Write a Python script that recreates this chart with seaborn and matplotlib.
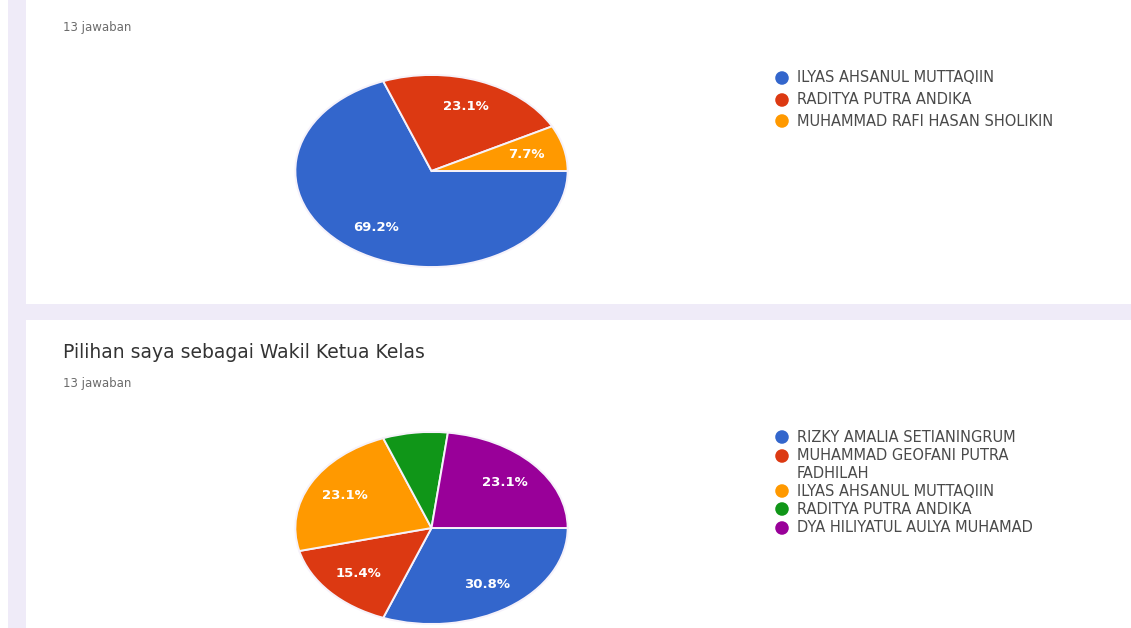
import matplotlib
matplotlib.use("Agg")
import matplotlib.pyplot as plt
from matplotlib.patches import Rectangle
import seaborn as sns

# ---- data ----
top_labels = ["ILYAS AHSANUL MUTTAQIIN", "RADITYA PUTRA ANDIKA", "MUHAMMAD RAFI HASAN SHOLIKIN"]
top_counts = [9, 3, 1]
bottom_title = "Pilihan saya sebagai Wakil Ketua Kelas"
bottom_labels = ["RIZKY AMALIA SETIANINGRUM", "MUHAMMAD GEOFANI PUTRA\nFADHILAH",
                 "ILYAS AHSANUL MUTTAQIIN", "RADITYA PUTRA ANDIKA", "DYA HILIYATUL AULYA MUHAMAD"]
bottom_counts = [4, 2, 3, 1, 3]
responses_text = "13 jawaban"

sns.set_theme(style="white")
plt.rcParams['font.family'] = ['DejaVu Sans']
palette = ["#3366CC", "#DC3912", "#FF9900", "#109618", "#990099"]

W, H = 1131, 628
fig = plt.figure(figsize=(W / 100, H / 100), dpi=100, facecolor="white")

# background overlay axes in pixel coordinates
bg = fig.add_axes([0, 0, 1, 1], zorder=0)
bg.set_xlim(0, W)
bg.set_ylim(H, 0)
bg.axis("off")
lav = "#efebf8"
bg.add_patch(Rectangle((8, 0), 18, H, facecolor=lav, edgecolor="none"))
bg.add_patch(Rectangle((8, 304), W, 16, facecolor=lav, edgecolor="none"))

def px_axes(x0, y0, x1, y1):
    return fig.add_axes([x0 / W, 1 - y1 / H, (x1 - x0) / W, (y1 - y0) / H], zorder=2)

def draw_pie(ax, counts, hide=()):
    wedges, texts, autotexts = ax.pie(
        counts, colors=palette[:len(counts)], startangle=0, counterclock=False,
        autopct=lambda p: f"{p:.1f}%", pctdistance=0.72,
        wedgeprops=dict(edgecolor="#f6f2fa", linewidth=1.4),
        textprops=dict(color="white", fontsize=9.5, fontweight="bold"))
    for i in hide:
        autotexts[i].set_visible(False)
    ax.set_aspect("auto")
    ax.set_xlim(-1.01, 1.01)
    ax.set_ylim(-1.01, 1.01)
    ax.axis("off")

ax1 = px_axes(294, 74, 569, 268)
draw_pie(ax1, top_counts)
ax2 = px_axes(294, 431, 569, 625)
draw_pie(ax2, bottom_counts, hide=(3,))

# texts
ov = fig.add_axes([0, 0, 1, 1], zorder=3)
ov.set_xlim(0, W)
ov.set_ylim(H, 0)
ov.axis("off")
ov.text(63, 27, responses_text, fontsize=8.5, color="#6b6b6b", va="center", ha="left")
ov.text(63, 353, bottom_title, fontsize=13.5, color="#333333", va="center", ha="left")
ov.text(63, 384, responses_text, fontsize=8.5, color="#6b6b6b", va="center", ha="left")

def legend(labels, ys):
    for i, (lab, y) in enumerate(zip(labels, ys)):
        ov.scatter([782], [y], s=95, color=palette[i], edgecolors="none")
        ov.text(797, y - 7.5, lab, fontsize=10.5, color="#4a4a4a", va="top", ha="left",
                linespacing=1.25)

legend(top_labels, [78, 100, 121])
legend(bottom_labels, [437, 456, 491, 509, 528])

fig.savefig("out.png", dpi=100, facecolor="white")
